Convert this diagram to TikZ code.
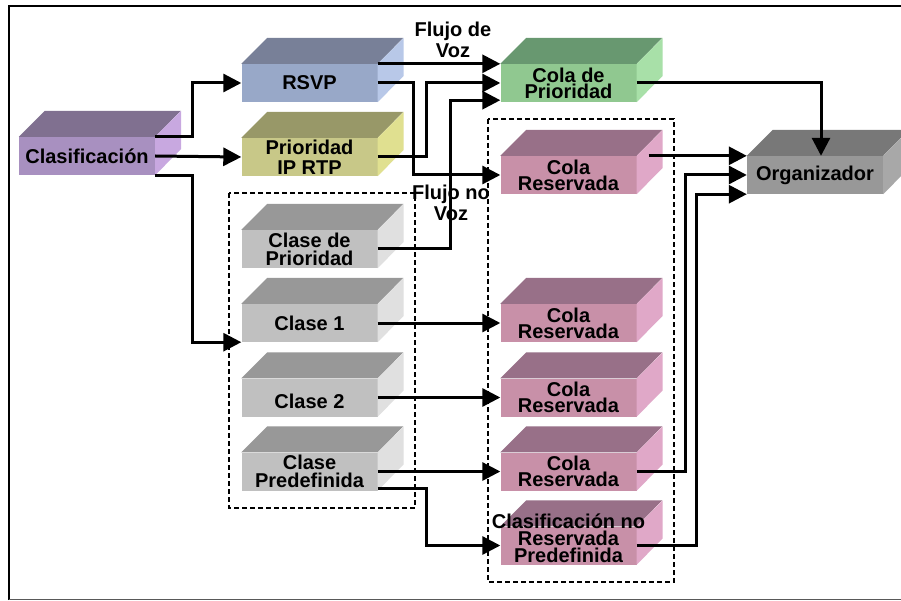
\documentclass[tikz,border=0pt]{standalone}
\usepackage{fontspec}
\setmainfont{Liberation Sans}
\usetikzlibrary{arrows.meta}
\definecolor{clF}{HTML}{A890C0}\definecolor{clT}{HTML}{807090}\definecolor{clS}{HTML}{C8A8E0}
\definecolor{rsF}{HTML}{98A8C8}\definecolor{rsT}{HTML}{788098}\definecolor{rsS}{HTML}{B8C8E8}
\definecolor{ipF}{HTML}{C8C888}\definecolor{ipT}{HTML}{989868}\definecolor{ipS}{HTML}{E0E090}
\definecolor{gyF}{HTML}{C0C0C0}\definecolor{gyT}{HTML}{989898}\definecolor{gyS}{HTML}{E0E0E0}
\definecolor{grF}{HTML}{90C890}\definecolor{grT}{HTML}{689870}\definecolor{grS}{HTML}{A8E0A8}
\definecolor{pkF}{HTML}{C890A8}\definecolor{pkT}{HTML}{987088}\definecolor{pkS}{HTML}{E0A8C8}
\definecolor{orF}{HTML}{989898}\definecolor{orT}{HTML}{787878}\definecolor{orS}{HTML}{A8A8A8}
\tikzset{
  front/.style={minimum width=136pt, minimum height=38pt, inner sep=0pt, align=center},
  lbl/.style={inner sep=0pt, align=center},
  arr/.style={line width=3pt, -{Triangle[length=18pt,width=18pt]}},
  grp/.style={dash pattern=on 5pt off 3pt, line width=1.2pt},
}
\newcommand{\prism}[6]{%
  \node[front, fill=#4F, font=\bfseries\fontsize{20}{#5}\selectfont] (#1) at (#2,#3) {#6};
  \fill[#4T] (#1.north west) -- ++(26,-26) -- ++(136,0) -- (#1.north east) -- cycle;
  \fill[#4S] (#1.north east) -- ++(26,-26) -- ++(0,38) -- (#1.south east) -- cycle;
}
\begin{document}
\begin{tikzpicture}[x=1pt,y=-1pt]
\useasboundingbox (0,0) rectangle (901,601);
\fill[white] (0,0) rectangle (901,601);
% frame
\draw[line width=2pt] (9,600) -- (9,6) -- (910,6);
\draw[line width=1.5pt, gray!70!black] (9,599.5) -- (910,599.5);
% groups
\draw[grp] (229,193) rectangle (415,508);
\draw[grp] (488,119) rectangle (674,582);
% boxes
\prism{clas}{87}{156}{cl}{17}{Clasificación}
\prism{rsvp}{309.5}{83}{rs}{17}{RSVP}
\prism{prio}{309.5}{157}{ip}{20}{Prioridad\\IP RTP}
\prism{cdp}{309.5}{249}{gy}{18}{Clase de\\Prioridad}
\prism{c1}{309.5}{323}{gy}{17}{Clase 1}
\prism{c2}{309.5}{397.5}{gy}{17}{}
\prism{cpre}{309.5}{471.5}{gy}{18}{Clase\\Predefinida}
\prism{colap}{568.5}{83}{gr}{16}{Cola de\\Prioridad}
\prism{colr1}{568.5}{175}{pk}{16}{Cola\\Reservada}
\prism{colr2}{568.5}{323}{pk}{16}{Cola\\Reservada}
\prism{colr3}{568.5}{397.5}{pk}{16}{Cola\\Reservada}
\prism{colr4}{568.5}{471.5}{pk}{16}{Cola\\Reservada}
\prism{cnr}{568.5}{545.5}{pk}{17}{}
\prism{org}{815}{175}{or}{17}{Organizador}
\node[lbl, font=\bfseries\fontsize{20}{17}\selectfont] (c2t) at (309.5,401) {Clase 2};
\node[lbl, font=\bfseries\fontsize{20}{17}\selectfont] (cnrt) at (568.5,538) {Clasificación no\\Reservada\\Predefinida};
% labels
\node[lbl, font=\bfseries\fontsize{20}{21}\selectfont] (fv) at (453,40) {Flujo de\\Voz};
\node[lbl, font=\bfseries\fontsize{20}{21}\selectfont] (fnv) at (451,203) {Flujo no\\Voz};
% connectors
\draw[arr] (clas.north east) -- ++(37,0) |- (rsvp.west);
\draw[arr] (clas.east) -- (prio.west);
\draw[arr] (clas.south east) -- ++(37,0) |- (c1.south west);
\draw[arr] (rsvp.north east) -- (colap.north west);
\draw[arr] (rsvp.east) -- ++(36,0) |- (colr1.west);
\draw[arr] (prio.east) -- ++(49,0) |- (colap.west);
\draw[arr] (cdp.east) -- ++(73,0) |- ([yshift=2pt]colap.south west);
\draw[arr] (c1.east) -- (colr2.west);
\draw[arr] (c2.east) -- (colr3.west);
\draw[arr] (cpre.east) -- (colr4.west);
\draw[arr] ([yshift=2pt]cpre.south east) -- ++(49,0) |- (cnr.west);
\draw[arr] (colap.east) -| ([xshift=6pt]org.north);
\draw[arr] ([xshift=12pt]colr1.north east) -- (org.north west);
\draw[arr] (colr4.east) -- ++(49,0) |- (org.west);
\draw[arr] (cnr.east) -- ++(60,0) |- (org.south west);
\end{tikzpicture}
\end{document}
